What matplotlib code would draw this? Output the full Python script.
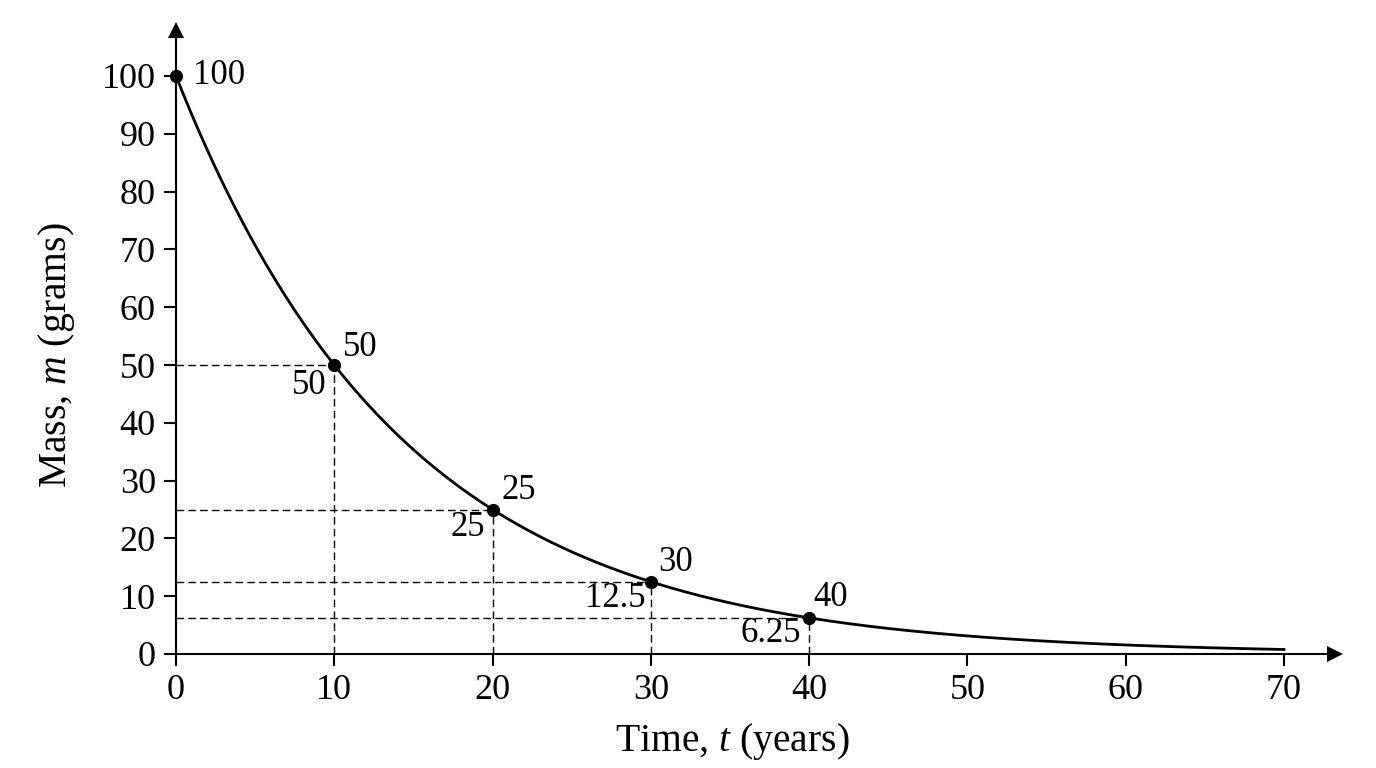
import numpy as np
import matplotlib
matplotlib.use("Agg")
import matplotlib.pyplot as plt

plt.rcParams['font.family'] = ['Liberation Serif', 'DejaVu Serif']
plt.rcParams['mathtext.fontset'] = 'custom'
plt.rcParams['mathtext.rm'] = 'Liberation Serif'
plt.rcParams['mathtext.it'] = 'Liberation Serif:italic'

# Data
initial_mass = 100.0
half_life = 10.0
t_max = 70
point_t = [0, 10, 20, 30, 40]
point_m = [100, 50, 25, 12.5, 6.25]
upper_labels = ["100", "50", "25", "30", "40"]
lower_labels = [None, "50", "25", "12.5", "6.25"]
x_ticks = [0, 10, 20, 30, 40, 50, 60, 70]
y_ticks = [0, 10, 20, 30, 40, 50, 60, 70, 80, 90, 100]

upper_offsets = [(17, 0), (9, 18), (9, 19), (7, 19), (4, 20)]
lower_offsets = [None, (-8, -21), (-8, -18), (-5, -17), (-8, -16)]

W, H = 1376, 768
fig = plt.figure(figsize=(W / 100, H / 100), dpi=100)
x0, x1 = 176, 1335
y0, y1 = 654, 30
ax = fig.add_axes([x0 / W, (H - y0) / H, (x1 - x0) / W, (y0 - y1) / H])
px_x = (1284 - 176) / 70.0
px_y = (654 - 76) / 100.0
ax.set_xlim(0, (x1 - x0) / px_x)
ax.set_ylim(0, (y0 - y1) / px_y)

t = np.linspace(0, t_max, 600)
m = initial_mass * 0.5 ** (t / half_life)
ax.plot(t, m, color='black', lw=2.0, zorder=3, clip_on=False)

for tp, mp in zip(point_t[1:], point_m[1:]):
    ax.plot([0, tp], [mp, mp], color='black', lw=1.0, ls=(0, (5.5, 3)), zorder=2)
    ax.plot([tp, tp], [0, mp], color='black', lw=1.0, ls=(0, (5.5, 3)), zorder=2)

ax.plot(point_t, point_m, 'o', color='black', ms=8.5, zorder=4, clip_on=False)

for tp, mp, lab, off in zip(point_t, point_m, upper_labels, upper_offsets):
    ax.annotate(lab, (tp, mp), xytext=off, textcoords='offset pixels',
                ha='left', va='center', fontsize=25)
for tp, mp, lab, off in zip(point_t, point_m, lower_labels, lower_offsets):
    if lab is None:
        continue
    ax.annotate(lab, (tp, mp), xytext=off, textcoords='offset pixels',
                ha='right', va='center', fontsize=25)

for s in ['top', 'right']:
    ax.spines[s].set_visible(False)
for s in ['left', 'bottom']:
    ax.spines[s].set_linewidth(1.5)

ax.plot(1, 0, marker='>', color='black', ms=12, transform=ax.get_yaxis_transform(),
        clip_on=False, markeredgewidth=0)
ax.plot(0, 1, marker='^', color='black', ms=12, transform=ax.get_xaxis_transform(),
        clip_on=False, markeredgewidth=0)

ax.set_xticks(x_ticks)
ax.set_yticks(y_ticks)
ax.tick_params(axis='both', direction='out', length=8.5, width=1.5, labelsize=26)
ax.tick_params(axis='y', pad=6)
ax.tick_params(axis='x', pad=6)

fig.text(732 / W, 1 - 741 / H, r'Time, $t$ (years)', ha='center', va='center', fontsize=28.5)
fig.text(57 / W, 1 - 355 / H, r'Mass, $m$ (grams)', ha='center', va='center',
         fontsize=28.5, rotation=90)

fig.savefig('out.png', dpi=100)
